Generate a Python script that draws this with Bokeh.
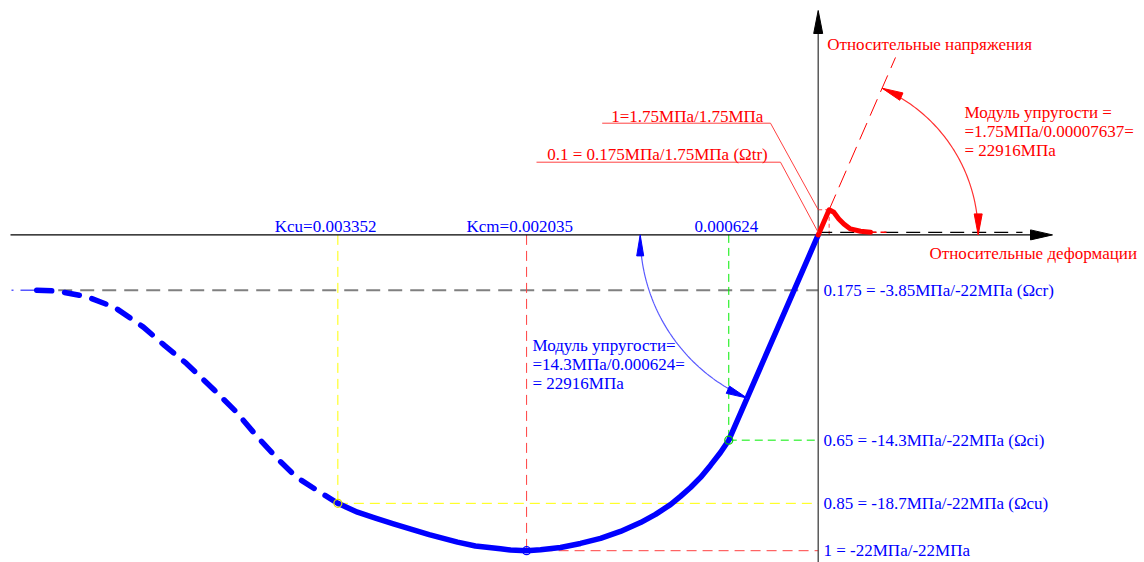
import numpy as np
from bokeh.plotting import figure
from bokeh.models import Range1d, Label
from bokeh.embed import file_html
from bokeh.resources import INLINE

# ---------------- data ----------------
E_MPa = 22916.0          # modulus of elasticity
fcm = 22.0               # compressive strength, MPa
fctm = 1.75              # tensile strength, MPa
eps_ci = 0.000624
eps_cm = 0.002035
eps_cu = 0.003352
eps_t_peak = 0.00007637
rel_cr, rel_ci, rel_cu, rel_cm = 0.175, 0.65, 0.85, 1.0
omega_tr = 0.1

# compression branch (strain, relative stress) – solid part
comp_strain = [0.0, 0.000624, 0.000682, 0.000752, 0.000821, 0.000891, 0.000961, 0.001031,
               0.001135, 0.001240, 0.001380, 0.001519, 0.001659, 0.001798, 0.001938, 0.002035,
               0.002147, 0.002217, 0.002392, 0.002517, 0.002715, 0.002964, 0.003090, 0.003215,
               0.003352]
comp_stress = [0.0, 0.65, 0.689, 0.730, 0.768, 0.800, 0.828, 0.854,
               0.885, 0.911, 0.939, 0.961, 0.977, 0.990, 0.997, 1.0,
               0.998, 0.994, 0.985, 0.973, 0.949, 0.915, 0.897, 0.878,
               0.85]
# compression branch – dashed descending part
desc_strain = [0.003352, 0.003466, 0.003641, 0.003762, 0.003913, 0.004060, 0.004213,
               0.004409, 0.004562, 0.004709, 0.004911, 0.005110, 0.005308, 0.005457]
desc_stress = [0.85, 0.818, 0.767, 0.714, 0.640, 0.561, 0.492,
               0.407, 0.350, 0.292, 0.229, 0.195, 0.178, 0.175]
# tension branch (strain, stress relative to fcm)
tens_strain = [0.0, 0.00007637, 0.000109, 0.000144, 0.000179, 0.000225, 0.000295, 0.000365]
tens_stress = [0.0, 0.0795, 0.0715, 0.0506, 0.0348, 0.0190, 0.0114, 0.0082]

x_labels = ["Kcu=0.003352", "Kcm=0.002035", "0.000624"]
y_labels = ["0.175 = -3.85МПа/-22МПа (Ωcr)", "0.65 = -14.3МПа/-22МПа (Ωci)",
            "0.85 = -18.7МПа/-22МПа (Ωcu)", "1 = -22МПа/-22МПа"]
t_labels = ["1=1.75МПа/1.75МПа", "0.1 = 0.175МПа/1.75МПа (Ωtr)"]
mod_c = ["Модуль упругости=", "=14.3МПа/0.000624=", "= 22916МПа"]
mod_t = ["Модуль упругости =", "=1.75МПа/0.00007637=", "= 22916МПа"]
axis_y_title = "Относительные напряжения"
axis_x_title = "Относительные деформации"

# ---------------- layout helpers ----------------
X0, Y0 = 817.7, 234.4      # pixel of origin
SX, SY = 143300.0, 315.8   # px per unit strain / per unit relative stress
W, H = 1144, 562

def px(xp, yp):
    return (xp - X0) / SX, (Y0 - yp) / SY

FONT = "Liberation Serif"
FS = "17px"
BLUE, RED = "#0000ff", "#ff0000"

p = figure(width=W, height=H, output_backend="svg", toolbar_location=None,
           x_range=Range1d(px(0, 0)[0], px(W, 0)[0]),
           y_range=Range1d(px(0, H)[1], px(0, 0)[1]),
           x_axis_location=None, y_axis_location=None, min_border=0)
p.grid.visible = False
p.outline_line_color = None
p.background_fill_color = "white"

def arrowhead(tx, ty, ang_deg, L, Wd, color):
    a = np.radians(ang_deg)
    dx, dy = np.cos(a), np.sin(a)
    bx, by = -L * dx, -L * dy
    qx, qy = -dy, dx
    xs = [tx, tx + (bx + Wd / 2 * qx) / SX, tx + (bx - Wd / 2 * qx) / SX]
    ys = [ty, ty + (by + Wd / 2 * qy) / SY, ty + (by - Wd / 2 * qy) / SY]
    p.patch(xs, ys, fill_color=color, line_color=color, line_width=1)

def label(x, y, text, color, align="left"):
    p.add_layout(Label(x=x, y=y, text=text, text_color=color, text_font=FONT,
                       text_font_size=FS, text_align=align, text_baseline="middle"))

E_rel = E_MPa / fcm
t_peak = fctm / fcm

# ---------------- guide lines ----------------
p.line([-desc_strain[-1], 0], [-rel_cr, -rel_cr], line_color="#808080", line_width=2, line_dash="14 8")
p.line([-eps_cu, -eps_cu], [0, -rel_cu], line_color="#ffff00", line_width=1, line_dash="10 6")
p.line([-eps_cu, 0], [-rel_cu, -rel_cu], line_color="#ffff00", line_width=1, line_dash="10 6")
p.line([-eps_cm, -eps_cm], [0, -rel_cm], line_color="#ff4040", line_width=1, line_dash="10 6")
p.line([-eps_cm, 0], [-rel_cm, -rel_cm], line_color="#ff4040", line_width=1, line_dash="10 6")
p.line([-eps_ci, -eps_ci], [0, -rel_ci], line_color="#00ee00", line_width=1, line_dash="8 5")
p.line([-eps_ci, 0], [-rel_ci, -rel_ci], line_color="#00ee00", line_width=1, line_dash="8 5")
p.line([0, eps_t_peak], [t_peak, t_peak], line_color="#ff4040", line_width=1, line_dash="4 3")
p.line([eps_t_peak, eps_t_peak], [t_peak, 0], line_color="#ff4040", line_width=1, line_dash="4 3")
p.line([0, px(1022, 0)[0]], [omega_tr * t_peak] * 2, line_color="black", line_width=1.3, line_dash="14 8")
ext = px(895, 0)[0]
p.line([0, ext], [0, ext * E_rel], line_color=RED, line_width=1, line_dash="18 8")

# ---------------- axes ----------------
p.line([px(10, 0)[0], px(1031, 0)[0]], [0, 0], line_color="black", line_width=1.3)
arrowhead(px(1052, 0)[0], 0, 0, 22, 10, "black")
p.line([0, 0], [px(0, 562)[1], px(0, 32)[1]], line_color="#404040", line_width=1.3)
arrowhead(0, px(0, 10)[1], 90, 23, 9, "black")

# ---------------- curves ----------------
p.line([px(11, 0)[0], -desc_strain[-1]], [-rel_cr, -rel_cr], line_color=BLUE, line_width=1, line_dash="2 7 20 0")
p.line([-v for v in desc_strain], [-v for v in desc_stress], line_color=BLUE, line_width=5.5,
       line_dash="15 13", line_cap="round", line_join="round")
p.line([-v for v in comp_strain], [-v for v in comp_stress], line_color=BLUE, line_width=5.5,
       line_join="round")
p.line([tens_strain[-1], px(890, 0)[0]], [tens_stress[-1]] * 2, line_color=RED, line_width=1.5, line_dash="6 4")
p.line(tens_strain, tens_stress, line_color=RED, line_width=5, line_join="round", line_cap="round")

p.scatter([-eps_ci], [-rel_ci], marker="circle", size=8, fill_color=None, line_color="#00cc00", line_width=1.2)
p.scatter([-eps_cu], [-rel_cu], marker="circle", size=8, fill_color=None, line_color="#e0e000", line_width=1.2)
p.scatter([-eps_cm], [-rel_cm], marker="circle", size=8, fill_color=None, line_color=BLUE, line_width=1.2)

# ---------------- modulus arcs ----------------
theta_e = np.degrees(np.arctan(E_rel * SY / SX))

def arc(R, a0, a1, color):
    th = np.radians(np.linspace(a0, a1, 80))
    p.line(R * np.cos(th) / SX, R * np.sin(th) / SY, line_color=color, line_width=1.2)

Rt = 160
arc(Rt, 0, theta_e, "#ff3030")
arrowhead(Rt / SX, 0, -90, 21, 8, RED)
arrowhead(Rt * np.cos(np.radians(theta_e)) / SX, Rt * np.sin(np.radians(theta_e)) / SY,
          theta_e + 90, 21, 8, RED)
Rc = 178
arc(Rc, 180, 180 + theta_e, "#5a5aff")
arrowhead(-Rc / SX, 0, 90, 21, 7, BLUE)
a2 = np.radians(180 + theta_e)
arrowhead(Rc * np.cos(a2) / SX, Rc * np.sin(a2) / SY, 180 + theta_e + 90, 21, 8, BLUE)

# ---------------- leader lines (tension labels) ----------------
u1 = px(601.7, 122.7); e1 = px(770, 122.7)
p.line([u1[0], e1[0], 0], [u1[1], e1[1], t_peak], line_color="#ff4040", line_width=1)
u2 = px(536, 161.7); e2 = px(780, 161.7)
p.line([u2[0], e2[0], 0], [u2[1], e2[1], omega_tr * t_peak], line_color="#ff4040", line_width=1)

# ---------------- texts ----------------
for txt, xp in zip(x_labels, [274.3, 466, 694]):
    x, y = px(xp, 226)
    label(x, y, txt, BLUE)
for txt, val in zip(y_labels, [rel_cr, rel_ci, rel_cu, rel_cm]):
    label(px(823, 0)[0], -val, txt, BLUE)
for txt, (xp, yp) in zip(t_labels, [(610.7, 116), (546.7, 154)]):
    x, y = px(xp, yp)
    label(x, y, txt, RED)
for txt, yp in zip(mod_c, [345, 364, 383]):
    x, y = px(532, yp)
    label(x, y, txt, BLUE)
for txt, yp in zip(mod_t, [111.5, 131, 150]):
    x, y = px(964, yp)
    label(x, y, txt, RED)
x, y = px(826.7, 44)
label(x, y, axis_y_title, RED)
x, y = px(929, 253)
label(x, y, axis_x_title, RED)

open("out.html", "w").write(file_html(p, INLINE))
